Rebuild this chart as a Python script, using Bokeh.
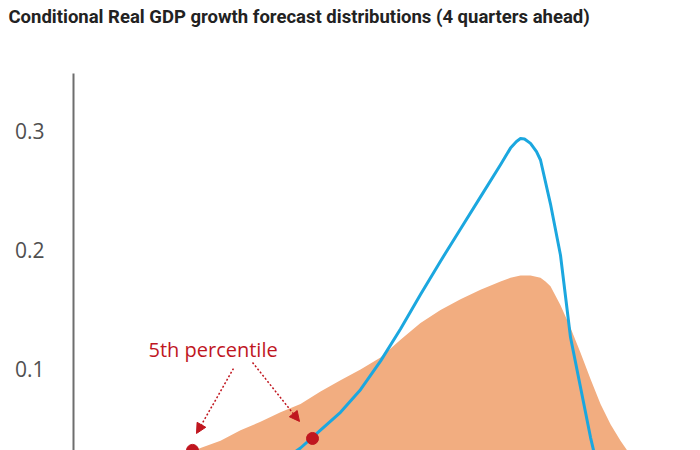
from bokeh.plotting import figure
from bokeh.layouts import column
from bokeh.models import Range1d, FixedTicker, Label, Arrow, NormalHead
from bokeh.embed import file_html
from bokeh.resources import INLINE

# --- data (GDP growth, density) ---
uncond_x = [-7.5, -7.0, -6.5, -6.0, -5.5, -5.0, -4.5, -4.0, -3.5, -3.0, -2.5, -2.0, -1.5,
            -1.0, -0.5, 0.0, 0.5, 1.0, 1.5, 1.75, 2.0, 2.25, 2.5, 2.625, 2.75, 3.0, 3.25,
            3.5, 3.75, 4.0, 4.25, 4.5, 4.75, 5.0, 5.5]
uncond_y = [0.013, 0.019, 0.027, 0.034, 0.040, 0.049, 0.056, 0.064, 0.071, 0.0815, 0.091,
            0.100, 0.110, 0.125, 0.139, 0.150, 0.159, 0.167, 0.174, 0.177, 0.179, 0.179,
            0.177, 0.174, 0.170, 0.154, 0.135, 0.114, 0.092, 0.071, 0.054, 0.040, 0.028,
            0.018, 0.007]

cond_x = [-4.5, -4.0, -3.5, -3.0, -2.5, -2.0, -1.5, -1.0, -0.5, 0.0, 0.5, 1.0, 1.5, 1.75,
          1.9, 2.0, 2.1, 2.25, 2.4, 2.5, 2.75, 3.0, 3.25, 3.5, 3.75, 4.0]
cond_y = [0.008, 0.022, 0.034, 0.049, 0.064, 0.083, 0.107, 0.134, 0.163, 0.191, 0.218,
          0.245, 0.272, 0.286, 0.2916, 0.294, 0.2937, 0.290, 0.283, 0.276, 0.239, 0.196,
          0.127, 0.085, 0.043, 0.007]

p5_x = [-6.2, -3.2]
p5_y = [0.032, 0.042]

y_ticks = [0.1, 0.2, 0.3]
title_text = "Conditional Real GDP growth forecast distributions (4 quarters ahead)"
note_text = "5th percentile"

ORANGE = "#F2AD80"
BLUE = "#1BA7DF"
RED = "#C0161F"

# title strip
t = figure(width=700, height=73, output_backend="svg", toolbar_location=None,
           x_range=Range1d(0, 700), y_range=Range1d(0, 73), frame_align=False,
           min_border_left=0, min_border_right=0, min_border_top=0, min_border_bottom=0)
t.title = None
t.axis.visible = False
t.grid.visible = False
t.outline_line_color = None
t.add_layout(Label(x=8, y=57, text=title_text, text_font="Roboto",
                   text_font_style="bold", text_font_size="18.5px",
                   text_color="#222222", text_baseline="alphabetic"))

p = figure(width=700, height=377, output_backend="svg", toolbar_location=None,
           x_range=Range1d(-9.175, 6.5), y_range=Range1d(0.0319, 0.3487), frame_align=False,
           min_border_left=73, min_border_right=0, min_border_top=0, min_border_bottom=0)
p.title = None
p.outline_line_color = None
p.xgrid.visible = False
p.ygrid.visible = False
p.xaxis.visible = False

ax = p.yaxis[0]
ax.ticker = FixedTicker(ticks=y_ticks)
ax.axis_line_color = "#6E6E6E"
ax.axis_line_width = 2
ax.major_tick_line_color = None
ax.minor_tick_line_color = None
ax.major_label_standoff = 23
ax.major_label_text_font = "Open Sans"
ax.major_label_text_font_size = "21px"
ax.major_label_text_color = "#505050"

p.varea(x=uncond_x, y1=[0] * len(uncond_x), y2=uncond_y, fill_color=ORANGE)
p.line(cond_x, cond_y, line_color=BLUE, line_width=3, line_join="round")
p.scatter(p5_x, p5_y, size=12, fill_color=RED, line_color=RED)

for (xs, ys, xe, ye) in [(-5.175, 0.1008, -6.1, 0.0462), (-4.7, 0.1059, -3.525, 0.0563)]:
    p.add_layout(Arrow(x_start=xs, y_start=ys, x_end=xe, y_end=ye,
                       line_color=RED, line_width=1.5, line_dash="2 2",
                       end=NormalHead(size=10, fill_color=RED, line_color=RED)))

p.add_layout(Label(x=-7.3, y=0.1168, text=note_text, text_font="Open Sans",
                   text_font_size="20px", text_color=RED, text_baseline="alphabetic"))

layout = column(t, p, spacing=0)
open("out.html", "w").write(file_html(layout, INLINE))
